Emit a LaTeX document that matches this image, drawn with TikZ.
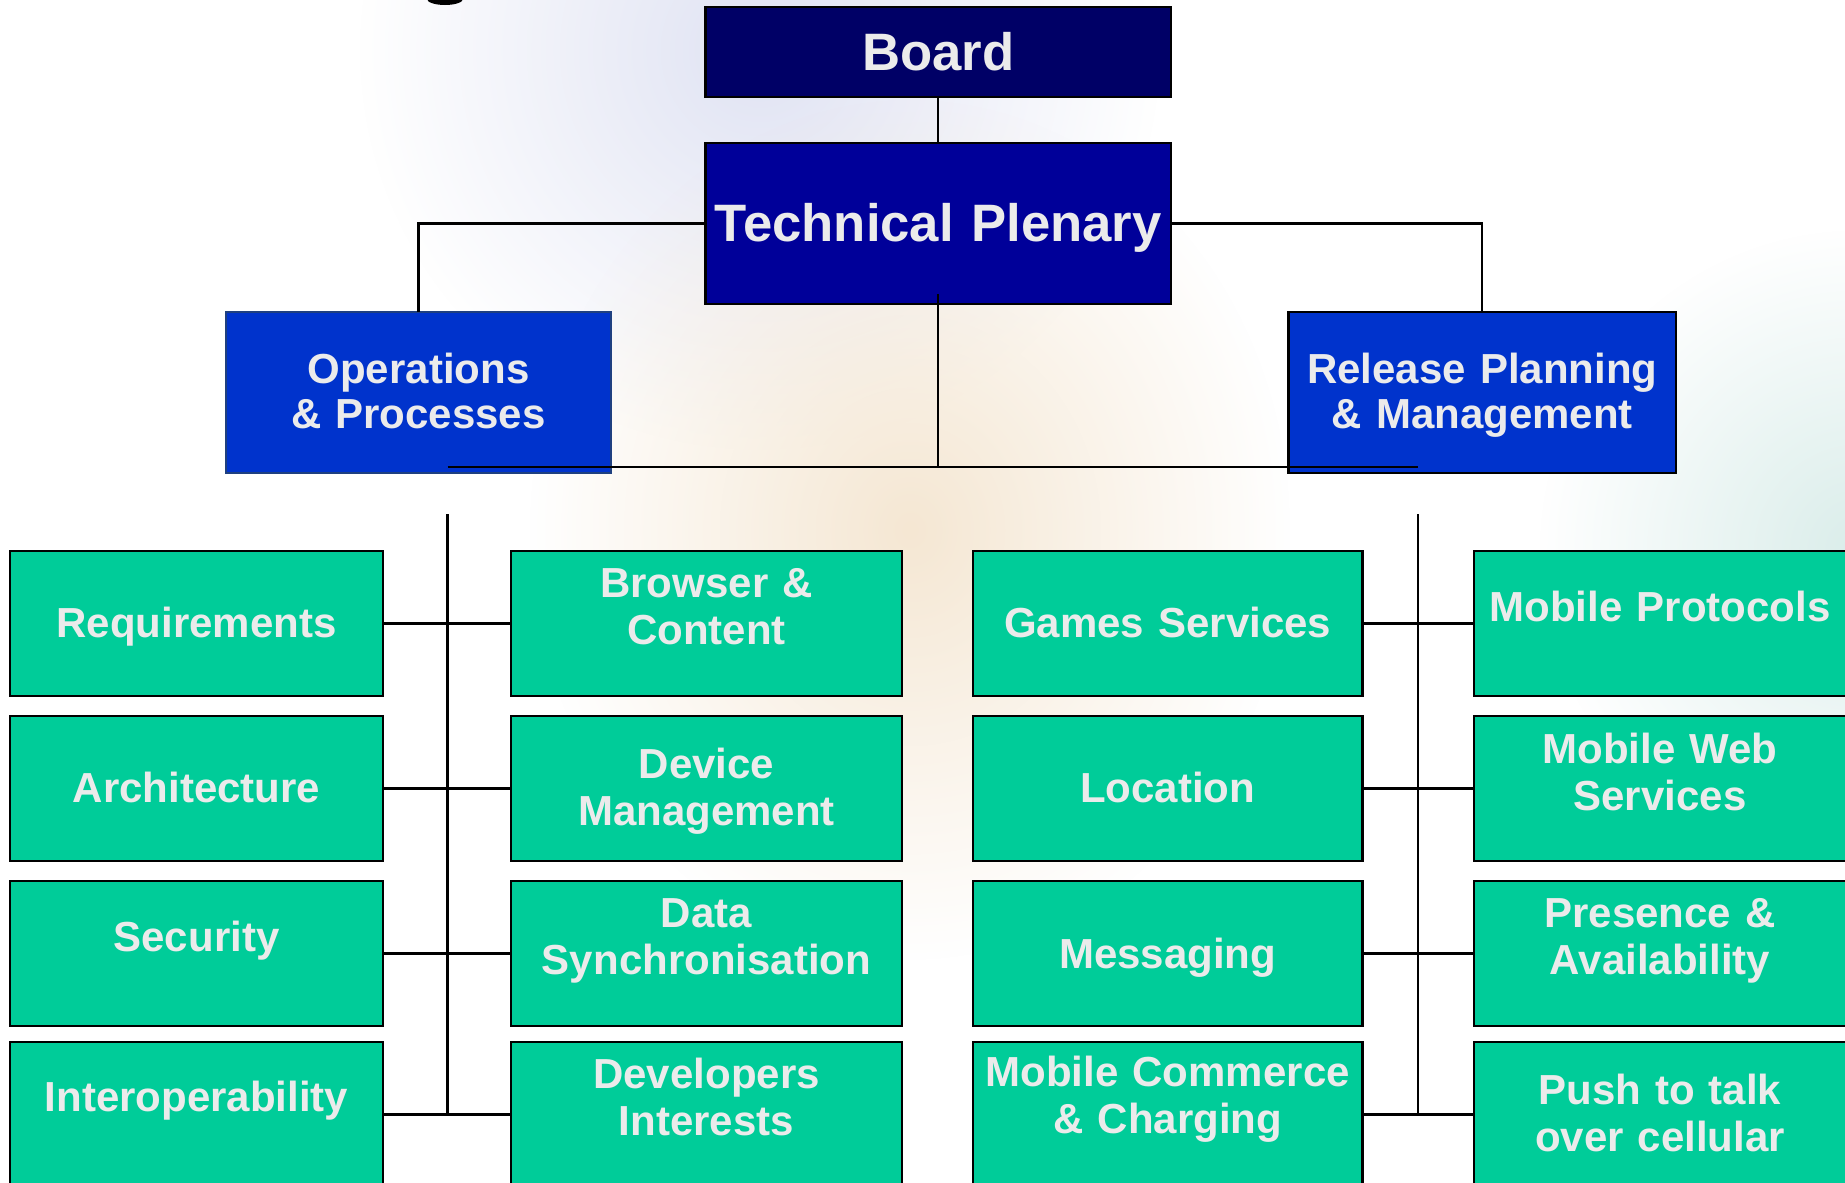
\documentclass[tikz,border=0pt]{standalone}
\usepackage{fontspec}
\setmainfont{Liberation Sans}
\usetikzlibrary{fadings}

\definecolor{boardblue}{HTML}{000066}
\definecolor{plenblue}{HTML}{000099}
\definecolor{wgblue}{HTML}{0033CC}
\definecolor{opsedge}{HTML}{1F4080}
\definecolor{groupgreen}{HTML}{00CC99}
\definecolor{labelgray}{HTML}{EBEBEB}
\definecolor{lavtint}{HTML}{E0E3F3}
\definecolor{peachtint}{HTML}{F5E7D3}
\definecolor{tealtint}{HTML}{DAEDEA}

\tikzfading[name=tintfade, inner color=transparent!0, outer color=transparent!100]

\tikzset{every picture/.style={line width=0.75pt}}
\tikzset{
  box/.style={draw=black, line width=1.8pt, inner sep=0pt, outer sep=0pt},
  gbox/.style={box, fill=groupgreen, minimum height=108.75pt},
  wgbox/.style={box, fill=wgblue, minimum width=289pt, minimum height=120.75pt},
  lbl/.style={text=labelgray, font=\fontsize{31.5}{35.25}\selectfont\bfseries,
    align=center, anchor=base, text width=290pt, inner sep=0pt},
  wglbl/.style={lbl, font=\fontsize{31.5}{33.75}\selectfont\bfseries},
  toplbl/.style={lbl, font=\fontsize{39.5}{44}\selectfont\bfseries, text width=345pt},
  link/.style={line width=1.7pt},
}

\begin{document}
\begin{tikzpicture}[x=0.75pt,y=0.75pt,yscale=-1,xscale=1]
\useasboundingbox (0,0) rectangle (1845,1182);
\clip (0,0) rectangle (1845,1182);
\fill[white] (0,0) rectangle (1845,1182);

%Shape: Circle (background tints)
\fill[lavtint, path fading=tintfade] (760,50) circle (400);
\fill[peachtint, path fading=tintfade] (910,530) ellipse [x radius=380, y radius=430];
\fill[tealtint, path fading=tintfade] (1860,550) circle (320);
%Shape: Ellipse (cut title glyph)
\fill[black] (445,-1) ellipse [x radius=18, y radius=6];

%Shape: Rectangle
\node[box, fill=boardblue, minimum width=349pt, minimum height=67.5pt] (board) at (938.3,52) {};
%Shape: Rectangle
\node[box, fill=plenblue, minimum width=349pt, minimum height=120.75pt] (tp) at (938.3,223.5) {};
%Shape: Rectangle
\node[wgbox, draw=opsedge] (ops) at (418.5,392.5) {};
%Shape: Rectangle
\node[wgbox, minimum width=290.6pt] (rpm) at (1482.3,392.3) {};

%Shape: Rectangle (left groups)
\node[gbox, minimum width=279.75pt] (req) at (196.5,623.5) {};
\node[gbox, minimum width=279.75pt] (arch) at (196.5,788.5) {};
\node[gbox, minimum width=279.75pt] (sec) at (196.5,953.5) {};
\node[gbox, minimum width=279.75pt] (iop) at (196.5,1114.5) {};
\node[gbox, minimum width=293.25pt] (bac) at (706.5,623.5) {};
\node[gbox, minimum width=293.25pt] (dm) at (706.5,788.5) {};
\node[gbox, minimum width=293.25pt] (ds) at (706.5,953.5) {};
\node[gbox, minimum width=293.25pt] (dev) at (706.5,1114.5) {};
%Shape: Rectangle (right groups)
\node[gbox, minimum width=292.1pt] (gs) at (1167.7,623.5) {};
\node[gbox, minimum width=292.1pt] (loc) at (1167.7,788.5) {};
\node[gbox, minimum width=292.1pt] (msg) at (1167.7,953.5) {};
\node[gbox, minimum width=292.1pt] (mcc) at (1167.7,1114.5) {};
\node[gbox, minimum width=282pt] (mp) at (1662,623.5) {};
\node[gbox, minimum width=282pt] (mws) at (1662,788.5) {};
\node[gbox, minimum width=282pt] (pa) at (1662,953.5) {};
\node[gbox, minimum width=282pt] (ptt) at (1662,1114.5) {};

%Straight Lines
\coordinate (busl) at (447.5,467.3);
\coordinate (busr) at (1418,467.3);
\coordinate (ltrunk) at (447.5,514);
\coordinate (rtrunk) at (1418,514);
\draw[link] (board.south) -- (tp.north);
\draw[link] (tp.west) -| (ops.north);
\draw[link] (tp.east) -| (rpm.north);
\draw[link] ([yshift=-7.5pt]tp.south) -- (tp.south |- busl);
\draw[link] (busl) -- (busr);
\draw[link] (ltrunk) -- (ltrunk |- iop.east);
\draw[link] (rtrunk) -- (rtrunk |- mcc.east);
\draw[link] (req.east) -- (bac.west);
\draw[link] (arch.east) -- (dm.west);
\draw[link] (sec.east) -- (ds.west);
\draw[link] (iop.east) -- (dev.west);
\draw[link] (gs.east) -- (mp.west);
\draw[link] (loc.east) -- (mws.west);
\draw[link] (msg.east) -- (pa.west);
\draw[link] (mcc.east) -- (ptt.west);

% Text Node
\node[toplbl] (board-t) at (938.3,70) {Board};
\node[toplbl] (tp-t) at (938.3,241.7) {Technical Plenary};
\node[wglbl] (ops-t) at (418.5,383.3) {Operations\\\& Processes};
\node[wglbl] (rpm-t) at (1482.3,383.3) {Release Planning\\\& Management};
% Text Node
\node[lbl] (req-t) at (196.5,637.6) {Requirements};
\node[lbl] (arch-t) at (196.5,802) {Architecture};
\node[lbl] (sec-t) at (196.5,951) {Security};
\node[lbl] (iop-t) at (196.5,1111) {Interoperability};
\node[lbl] (bac-t) at (706.5,597) {Browser \&\\Content};
\node[lbl] (dm-t) at (706.5,778.6) {Device\\Management};
\node[lbl] (ds-t) at (706.5,927.6) {Data\\Synchronisation};
\node[lbl] (dev-t) at (706.5,1088) {Developers\\Interests};
% Text Node
\node[lbl] (gs-t) at (1167.7,637.6) {Games Services};
\node[lbl] (loc-t) at (1167.7,802) {Location};
\node[lbl] (msg-t) at (1167.7,968) {Messaging};
\node[lbl] (mcc-t) at (1167.7,1086.5) {Mobile Commerce\\\& Charging};
\node[lbl] (mp-t) at (1660,621) {Mobile Protocols};
\node[lbl] (mws-t) at (1660,763) {Mobile Web\\Services};
\node[lbl] (pa-t) at (1660,927.6) {Presence \&\\Availability};
\node[lbl] (ptt-t) at (1660,1104) {Push to talk\\over cellular};

\end{tikzpicture}
\end{document}
